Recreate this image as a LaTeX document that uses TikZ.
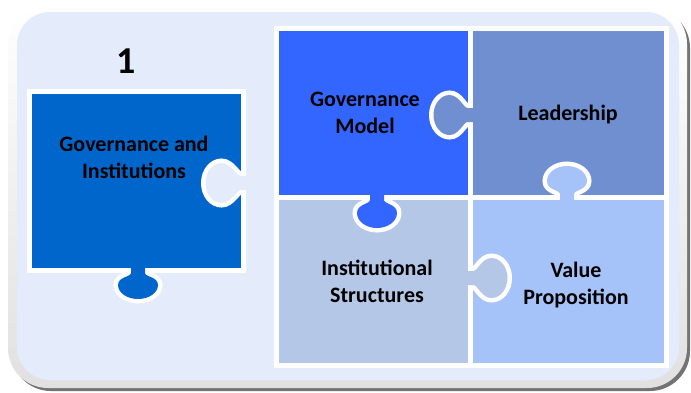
\documentclass[tikz,border=0pt]{standalone}
\usepackage{fontspec}
\setmainfont{Carlito}
\definecolor{bgblue}{RGB}{228,236,251}
\definecolor{instblue}{RGB}{0,102,204}
\definecolor{modelblue}{RGB}{51,102,255}
\definecolor{leadblue}{RGB}{111,143,208}
\definecolor{structblue}{RGB}{180,199,231}
\definecolor{valueblue}{RGB}{166,195,249}
\begin{document}
\begin{tikzpicture}[x=1pt, y=1pt,
  lbl/.style={font=\bfseries\fontsize{22}{27}\selectfont, align=center, inner sep=0pt},
  tile/.style={draw=white, line width=5pt},
  kbody/.style 2 args={insert path={.. controls (-7,7) and (-20,#1-0.6*#2) .. (-20,#1)
    .. controls (-20,#1+0.55*#2) and (-11,#1+#2) .. (0,#1+#2)
    .. controls (11,#1+#2) and (20,#1+0.55*#2) .. (20,#1)
    .. controls (20,#1-0.6*#2) and (7,7) .. (7,3)}},
  pics/knob/.style n args={3}{code={
    % white rim first, then the colour on top
    \begin{scope}
      \clip (-40,-2.5) rectangle (40,60);
      \draw[white, line width=9pt] (-7,0) -- (-7,3) [kbody={#2}{#3}] -- (7,0);
    \end{scope}
    \fill[#1] (-7,-4) -- (-7,3) [kbody={#2}{#3}] -- (7,-4) -- cycle;
  }}]
  \useasboundingbox (0,0) rectangle (691,-392);
  % frame
  \fill[black!55, rounded corners=40pt] (11,-8) rectangle (690,-391);
  \shade[rounded corners=40pt, top color=white, bottom color=black!12] (8,-4) rectangle (687,-388);
  \fill[bgblue, rounded corners=33pt] (17,-12) rectangle (679,-380);
  % left piece
  \draw[tile, fill=instblue] (29.5,-91.5) rectangle (243.5,-270);
  \pic[rotate=90] at (243.5,-183) {knob={bgblue}{22}{16}};
  \pic[rotate=180] at (138,-270) {knob={instblue}{15}{14}};
  % four pieces
  \draw[tile, fill=modelblue] (276.5,-28.5) rectangle (470.5,-197);
  \draw[tile, fill=leadblue] (470.5,-28.5) rectangle (666.5,-197);
  \draw[tile, fill=structblue] (276.5,-197) rectangle (470.5,-365.5);
  \draw[tile, fill=valueblue] (470.5,-197) rectangle (666.5,-365.5);
  \pic[rotate=90] at (470.5,-115) {knob={leadblue}{21}{16}};
  \pic[rotate=180] at (377,-197) {knob={modelblue}{16}{15}};
  \pic at (567,-197) {knob={valueblue}{16}{15}};
  \pic[rotate=-90] at (470.5,-278) {knob={structblue}{21}{16}};
  % texts
  \node[lbl, font=\bfseries\fontsize{38}{40}\selectfont, anchor=base] (num) at (126.5,-73) {1};
  \node[lbl] (inst) at (134,-157.5) {Governance and\\Institutions};
  \node[lbl] (model) at (365,-113) {Governance\\Model};
  \node[lbl, anchor=base] (lead) at (568,-120) {Leadership};
  \node[lbl] (struct) at (377,-281.5) {Institutional\\Structures};
  \node[lbl] (value) at (576,-285) {Value\\Proposition};
\end{tikzpicture}
\end{document}
